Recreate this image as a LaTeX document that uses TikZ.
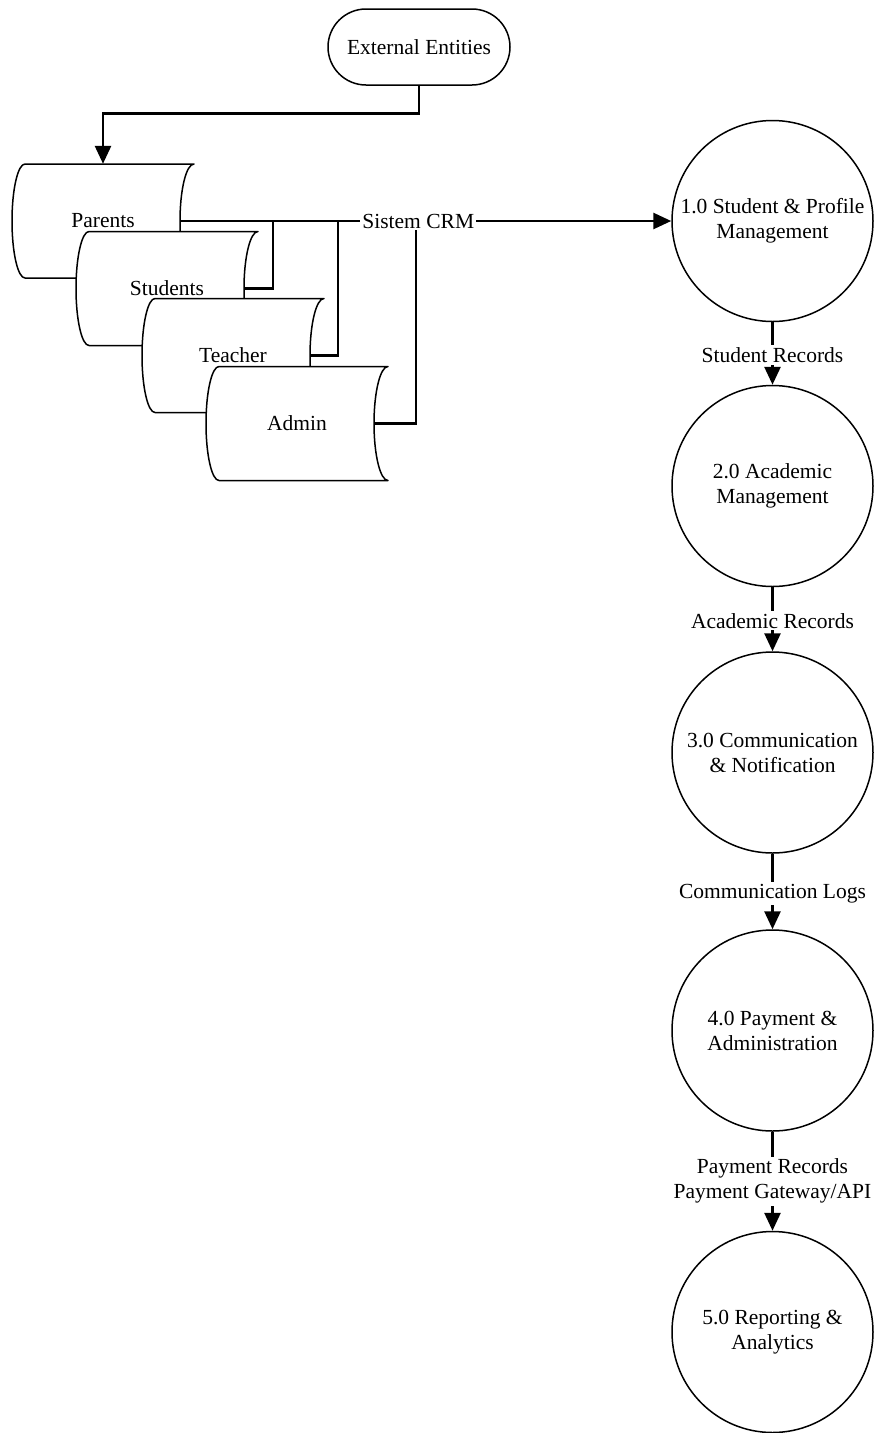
\documentclass[tikz,border=0pt]{standalone}
\usepackage{fontspec}
\setmainfont{Liberation Serif}
\usetikzlibrary{arrows.meta}
\newcommand\dfont{\fontsize{21.5}{25}\selectfont}
\tikzset{
  conn/.style={line width=2.7pt},
  arr/.style={conn, -{Triangle[length=18pt,width=16pt]}},
  proc/.style={circle, draw, line width=1.5pt, minimum size=201pt, inner sep=0pt, align=center, font=\dfont},
  lbl/.style={fill=white, inner sep=2pt, align=center, font=\dfont},
  term/.style={draw, rounded corners=38pt, minimum width=182pt, minimum height=76pt, line width=1.5pt, font=\dfont},
  sdtext/.style={minimum width=182pt, minimum height=114pt, inner sep=0pt, font=\dfont},
  sdline/.style={line width=1.5pt, line join=round, fill=white}
}
\newcommand\sdnode[4]{%
  \draw[sdline] (#2-78,#3-57) arc[start angle=90,end angle=270,x radius=13pt,y radius=57pt]
     -- (#2+91,#3+57) arc[start angle=270,end angle=90,x radius=14pt,y radius=57pt] -- cycle;
  \node[sdtext] (#1) at (#2,#3) {#4};
  \coordinate (#1-r) at (#2+77,#3);
}
\begin{document}
\begin{tikzpicture}[x=1pt,y=-1pt]
\useasboundingbox (0,0) rectangle (880,1433);
\node[term] (ext) at (419,47) {External Entities};
\sdnode{parents}{103}{221}{Parents}
\sdnode{students}{167}{288.5}{Students}
\sdnode{teacher}{233}{355.5}{Teacher}
\sdnode{admin}{297}{423.5}{Admin}
\draw[arr] (ext.south) -- ++(0,28) -| (parents.north);
\node[proc] (c1) at (772.5,221) {1.0 Student \& Profile\\Management};
\node[proc] (c2) at (772.5,486) {2.0 Academic\\Management};
\node[proc] (c3) at (772.5,752.5) {3.0 Communication\\\& Notification};
\node[proc] (c4) at (772.5,1030.5) {4.0 Payment \&\\Administration};
\node[proc] (c5) at (772.5,1332) {5.0 Reporting \&\\Analytics};
\coordinate (j1) at (273,221);
\coordinate (j2) at (338,221);
\coordinate (j3) at (416,221);
\draw[conn] (students-r) -| (j1);
\draw[conn] (teacher-r) -| (j2);
\draw[conn] (admin-r) -| (j3);
\draw[arr] (parents-r) -- node[lbl, pos=0.485] {Sistem CRM} (c1.west);
\draw[arr] (c1) -- node[lbl, yshift=-1.5pt] {Student Records} (c2);
\draw[arr] (c2) -- node[lbl, yshift=-1.5pt] {Academic Records} (c3);
\draw[arr] (c3) -- node[lbl, yshift=-2pt] {Communication Logs} (c4);
\draw[arr] (c4) -- node[lbl] {Payment Records\\Payment Gateway/API} (c5);
\end{tikzpicture}
\end{document}
